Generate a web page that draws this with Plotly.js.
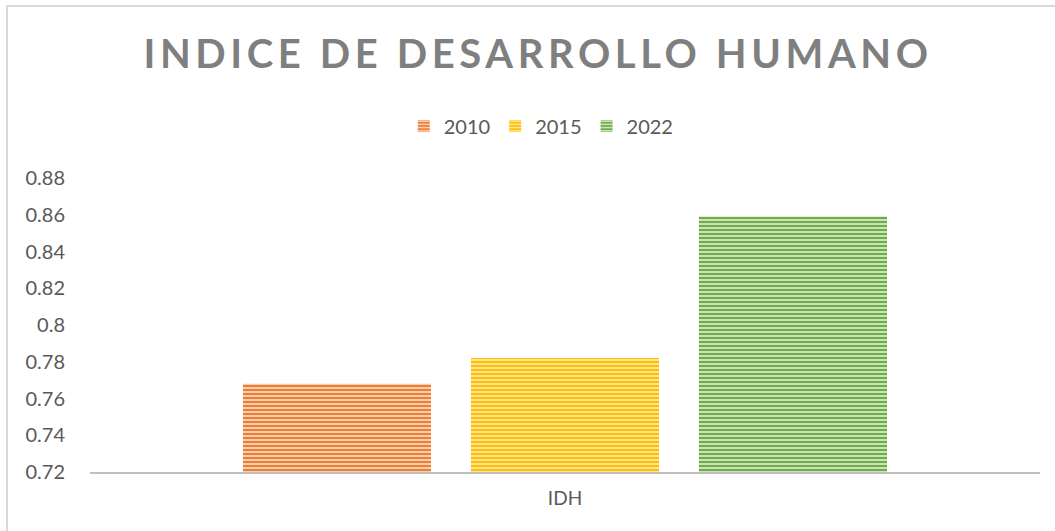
<!DOCTYPE html>
<html><head><meta charset="utf-8">
<script src="https://cdn.plot.ly/plotly-3.0.1.min.js"></script>
<style>
html,body{margin:0;padding:0;background:#fff;overflow:hidden;}
#frame{position:absolute;left:6px;top:5px;width:1200px;height:700px;border:2px solid #d9d9d9;box-sizing:border-box;}
#chart{position:absolute;left:0;top:0;width:1055px;height:531px;}
.gtitle{letter-spacing:4.6px;}
</style></head>
<body>
<div id="frame"></div>
<div id="chart"></div>
<script>
const categories = ['IDH'];
const seriesNames = ['2010', '2015', '2022'];
const values2010 = [0.768];
const values2015 = [0.782];
const values2022 = [0.859];
const yTicks = [0.72, 0.74, 0.76, 0.78, 0.8, 0.82, 0.84, 0.86, 0.88];

const colors = ['#ED7D31', '#FFC000', '#70AD47'];
const stripes = ['#FAD7C0', '#FFE9A8', '#D3E8C6'];
const seriesValues = [values2010, values2015, values2022];

const traces = seriesNames.map((n, i) => ({
  type: 'bar', name: n, x: categories, y: seriesValues[i],
  marker: {color: colors[i], line: {width: 0},
    pattern: {shape: '-', bgcolor: colors[i], fgcolor: stripes[i], size: 4, solidity: 0.45, fillmode: 'replace'}},
  hoverinfo: 'skip'
}));

const layout = {
  width: 1055, height: 531,
  paper_bgcolor: 'rgba(0,0,0,0)', plot_bgcolor: 'rgba(0,0,0,0)',
  margin: {l: 90, r: 15, t: 178, b: 59},
  font: {family: 'Lato, "Liberation Sans", sans-serif', color: '#595959', size: 19},
  title: {text: 'INDICE DE DESARROLLO HUMANO', x: 0.51, xanchor: 'center', y: 0.898, yanchor: 'middle',
    font: {family: 'Lato, "Open Sans", sans-serif', size: 40, color: '#7F7F7F', weight: 'bold'}},
  barmode: 'group', bargap: 0.28, bargroupgap: 0.175,
  showlegend: true,
  legend: {orientation: 'h', x: 0.475, xanchor: 'center', y: 1.177, yanchor: 'middle',
    font: {size: 20, color: '#595959'}, itemwidth: 30, traceorder: 'normal'},
  xaxis: {type: 'category', showline: true, linecolor: '#BFBFBF', linewidth: 2, ticks: '', showgrid: false,
    tickfont: {size: 19, color: '#595959'}, ticklabelstandoff: 8},
  yaxis: {range: [0.72, 0.88], tickvals: yTicks, ticktext: yTicks.map(String), showgrid: false, zeroline: false,
    showline: false, ticks: '', tickfont: {size: 20, color: '#595959'}, ticklabelstandoff: 24}
};

Plotly.newPlot('chart', traces, layout, {displayModeBar: false, staticPlot: true});
</script>
</body></html>
